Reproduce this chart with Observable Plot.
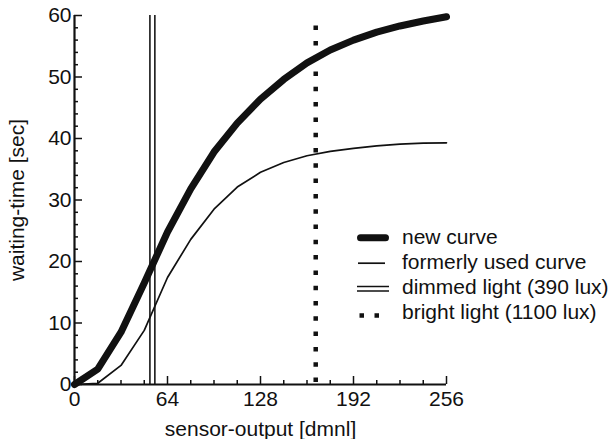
<!DOCTYPE html>
<html><head><meta charset="utf-8">
<script src="https://cdn.jsdelivr.net/npm/d3@7"></script>
<script src="https://cdn.jsdelivr.net/npm/@observablehq/plot@0.6"></script>
<style>
body{margin:0;background:#fff;font-family:"Liberation Sans",Arial,sans-serif;}
#wrap{position:relative;width:614px;height:439px;overflow:hidden;}
#legend{position:absolute;left:356px;top:224.5px;font-size:21px;color:#111;white-space:nowrap;}
.row{display:flex;align-items:center;height:25px;}
.row svg{width:40px;height:25px;margin-right:6px;flex:none;}
</style></head><body><div id="wrap"></div>
<script>
// sensor-output [dmnl]
const sensorOutput = [0,16,32,48,64,80,96,112,128,144,160,176,192,208,224,240,256];
// waiting-time [sec]
const newCurve     = [0,2.5,8.5,16.5,24.8,31.8,37.8,42.5,46.4,49.6,52.3,54.4,56.0,57.3,58.3,59.1,59.8];
const formerCurve  = [0,0.2,3.1,8.8,17.4,23.6,28.5,32.1,34.5,36.1,37.2,37.9,38.4,38.8,39.1,39.25,39.3];
const dimmedLight = [53.6];   // 390 lux
const brightLight = [166];    // 1100 lux
const xTicks = [0,64,128,192,256];
const xMinorTicks = [16,32,48,80,96,112,144,160,176,208,224,240];
const yTicks = [0,10,20,30,40,50,60];
const yMinorTicks = [2,4,6,8,12,14,16,18,22,24,26,28,32,34,36,38,42,44,46,48,52,54,56,58];
const legendLabels = ["new curve","formerly used curve","dimmed light (390 lux)","bright light (1100 lux)"];

const rows = sensorOutput.map((x,i)=>({x, nw:newCurve[i], old:formerCurve[i]}));
const ink = "#111";

const chart = Plot.plot({
  width:614, height:439,
  marginLeft:74, marginRight:168, marginTop:15, marginBottom:55,
  style:{fontFamily:'"Liberation Sans",Arial,sans-serif', fontSize:"21px", color:ink, background:"white", overflow:"visible"},
  x:{domain:[0,256]},
  y:{domain:[0,60]},
  marks:[
    Plot.ruleX(dimmedLight,{y1:0,y2:60,stroke:ink,strokeWidth:6.5}),
    Plot.ruleX(dimmedLight,{y1:0,y2:60,stroke:"white",strokeWidth:3.4}),
    Plot.ruleX(brightLight,{y1:0,y2:60,stroke:ink,strokeWidth:4.5,strokeDasharray:"4.5,10.8",strokeDashoffset:-2}),
    Plot.line(rows,{x:"x",y:"old",stroke:ink,strokeWidth:1.7,strokeLinejoin:"round"}),
    Plot.line(rows,{x:"x",y:"nw",stroke:ink,strokeWidth:7,strokeLinecap:"round",strokeLinejoin:"round"}),
    Plot.axisX(xMinorTicks,{tickSize:-4,strokeWidth:1.5,text:null,label:null}),
    Plot.axisX(xTicks,{tickSize:-8,strokeWidth:1.5,tickPadding:15,fontSize:21,label:"sensor-output [dmnl]",labelAnchor:"center",labelArrow:"none",labelOffset:51}),
    Plot.axisY(yMinorTicks,{tickSize:-4,strokeWidth:1.5,text:null,label:null}),
    Plot.axisY(yTicks,{tickSize:-8,strokeWidth:1.5,tickPadding:11,fontSize:21,label:"waiting-time [sec]",labelAnchor:"center",labelArrow:"none",labelOffset:65}),
    Plot.ruleX([0],{stroke:ink,strokeWidth:2.2}),
    Plot.ruleY([0],{stroke:ink,strokeWidth:2.2})
  ]
});
const wrap = document.getElementById("wrap");
wrap.appendChild(chart);

// legend overlay
const swatches = [
  `<line x1="4.5" x2="29.5" y1="12.8" y2="12.8" stroke="${ink}" stroke-width="7" stroke-linecap="round"/>`,
  `<line x1="2" x2="29" y1="13.2" y2="13.2" stroke="${ink}" stroke-width="1.7"/>`,
  `<line x1="1" x2="33" y1="11.5" y2="11.5" stroke="${ink}" stroke-width="1.5"/><line x1="1" x2="33" y1="16" y2="16" stroke="${ink}" stroke-width="1.5"/>`,
  `<line x1="3.5" x2="25" y1="15.5" y2="15.5" stroke="${ink}" stroke-width="4.5" stroke-dasharray="4.5,10.5"/>`
];
const legend = document.createElement("div");
legend.id = "legend";
legend.innerHTML = legendLabels.map((t,i)=>`<div class="row"><svg viewBox="0 0 40 25">${swatches[i]}</svg><span>${t}</span></div>`).join("");
wrap.appendChild(legend);
</script></body></html>
